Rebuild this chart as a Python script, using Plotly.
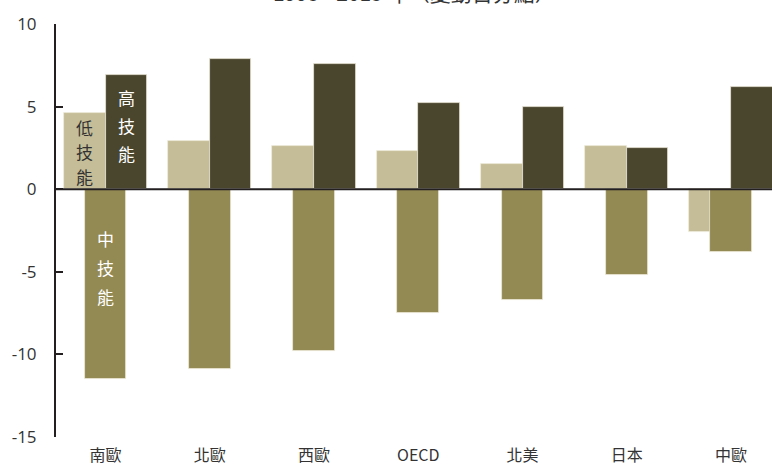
import plotly.graph_objects as go

# 1995-2015 change in employment shares (percentage points) by skill level
regions = ["南歐", "北歐", "西歐", "OECD", "北美", "日本", "中歐"]
low_skill = [4.6, 2.9, 2.6, 2.3, 1.5, 2.6, -2.6]
mid_skill = [-11.5, -10.9, -9.8, -7.5, -6.7, -5.2, -3.8]
high_skill = [6.9, 7.9, 7.6, 5.2, 5.0, 2.5, 6.2]

y_ticks = [10, 5, 0, -5, -10, -15]
title_text = "1995 - 2015 年（變動百分點）"

C_LOW = "#c5bd97"
C_MID = "#938953"
C_HIGH = "#4a452d"
TXT = "#333333"
CJK = "Noto Sans CJK TC, Noto Sans, sans-serif"
NUM = "Open Sans, Noto Sans, sans-serif"

idx = list(range(len(regions)))
edge = dict(color="rgba(240,236,220,0.9)", width=0.8)

fig = go.Figure()
fig.add_trace(go.Bar(x=idx, y=low_skill, width=0.4, offset=-0.4,
                     marker=dict(color=C_LOW, line=edge), name="低技能"))
fig.add_trace(go.Bar(x=idx, y=high_skill, width=0.4, offset=0.0,
                     marker=dict(color=C_HIGH, line=edge), name="高技能"))
fig.add_trace(go.Bar(x=idx, y=mid_skill, width=0.4, offset=-0.2,
                     marker=dict(color=C_MID, line=edge), name="中技能"))

# vertical in-bar labels, one character per line
def vlabel(text, x, y_px_top, step, color):
    for i, ch in enumerate(text):
        fig.add_annotation(x=x, y=0, xref="x", yref="y", text=ch, showarrow=False,
                           yshift=-(y_px_top + i * step),
                           font=dict(family=CJK, size=17, color=color))

# positions relative to the zero line (pixels above/below)
vlabel("低技能", -0.2, -62, 24.5, TXT)
vlabel("高技能", 0.2, -92, 28, "white")
vlabel("中技能", 0.0, 49, 29, "white")

# title, mostly above the visible page edge
fig.add_annotation(x=0.5, y=1, xref="paper", yref="paper", text=title_text,
                   showarrow=False, yanchor="bottom", yshift=15,
                   font=dict(family=CJK, size=21, color=TXT))

# zero line
fig.add_shape(type="line", xref="paper", yref="y", x0=0, x1=1, y0=0, y1=0,
              line=dict(color="#231f20", width=2))

fig.update_layout(
    width=772, height=466,
    margin=dict(l=56, r=0, t=24, b=29),
    paper_bgcolor="white", plot_bgcolor="white",
    barmode="overlay", showlegend=False, bargap=0,
)
fig.update_xaxes(
    range=[-0.475, 6.393], automargin=False,
    tickmode="array", tickvals=idx, ticktext=regions,
    showgrid=False, zeroline=False, showline=False, ticks="",
    ticklabelstandoff=7,
    tickfont=dict(family=CJK, size=16, color=TXT),
)
fig.update_yaxes(
    range=[-15, 10], automargin=False,
    tickmode="array", tickvals=y_ticks, ticktext=[str(v) for v in y_ticks],
    showgrid=False, zeroline=False,
    showline=True, linecolor="#231f20", linewidth=2,
    ticks="inside", ticklen=7, tickwidth=2, tickcolor="#231f20",
    ticklabelstandoff=14,
    tickfont=dict(family=NUM, size=17, color=TXT),
)

fig.write_html("out.html")
